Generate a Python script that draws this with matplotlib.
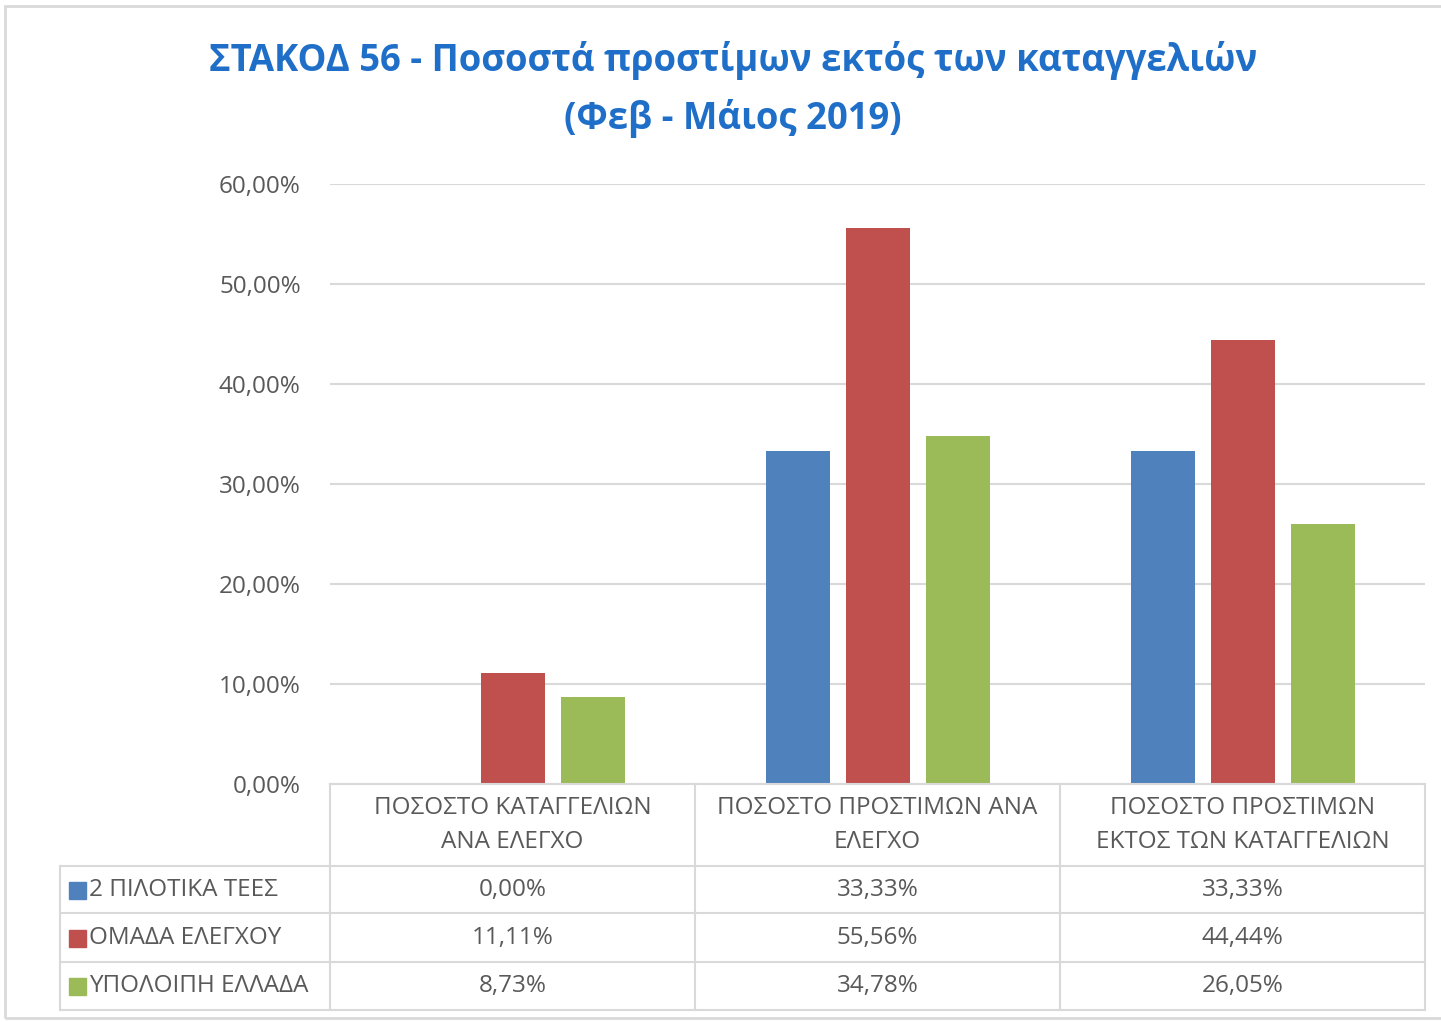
import matplotlib.pyplot as plt
from matplotlib.patches import Rectangle

plt.rcParams['font.family'] = ['Open Sans', 'DejaVu Sans']

categories = ['ΠΟΣΟΣΤΟ ΚΑΤΑΓΓΕΛΙΩΝ\nΑΝΑ ΕΛΕΓΧΟ',
              'ΠΟΣΟΣΤΟ ΠΡΟΣΤΙΜΩΝ ΑΝΑ\nΕΛΕΓΧΟ',
              'ΠΟΣΟΣΤΟ ΠΡΟΣΤΙΜΩΝ\nΕΚΤΟΣ ΤΩΝ ΚΑΤΑΓΓΕΛΙΩΝ']
series_names = ['2 ΠΙΛΟΤΙΚΑ ΤΕΕΣ', 'ΟΜΑΔΑ ΕΛΕΓΧΟΥ', 'ΥΠΟΛΟΙΠΗ ΕΛΛΑΔΑ']
pilot = [0.00, 33.33, 33.33]
control = [11.11, 55.56, 44.44]
rest = [8.73, 34.78, 26.05]
colors = ['#4F81BD', '#C0504D', '#9BBB59']

W, H = 1441, 1022
fig = plt.figure(figsize=(W / 100, H / 100), dpi=100)

# outer chart frame
fig.patches.append(Rectangle((5 / W, 4 / H), 1.2, 1 - 10 / H, transform=fig.transFigure,
                             fill=False, edgecolor='#D9D9D9', linewidth=2))

fig.text(733 / W, 1 - 61 / H, 'ΣΤΑΚΟΔ 56 - Ποσοστά προστίμων εκτός των καταγγελιών',
         ha='center', va='center', fontsize=26.3, fontweight='bold', color='#1F6FC8')
fig.text(733 / W, 1 - 119 / H, '(Φεβ - Μάιος 2019)',
         ha='center', va='center', fontsize=26.3, fontweight='bold', color='#1F6FC8')

ax = fig.add_axes([330 / W, 1 - 784 / H, (1425 - 330) / W, (784 - 184) / H])
series = [pilot, control, rest]
bw = 64 / 365
for i, vals in enumerate(series):
    xs = [j + (i - 1) * 80 / 365 for j in range(len(categories))]
    ax.bar(xs, vals, width=bw, color=colors[i], zorder=3)

ax.set_xlim(-0.5, len(categories) - 0.5)
ax.set_ylim(0, 60)
ticks = list(range(0, 61, 10))
ax.set_yticks(ticks)
ax.set_yticklabels([f'{t:.2f}%'.replace('.', ',') for t in ticks], fontsize=17.5, color='#595959')
ax.tick_params(axis='y', length=0, pad=21)
ax.set_xticks([])
ax.grid(axis='y', color='#D9D9D9', linewidth=1.5, zorder=0)
for s in ax.spines.values():
    s.set_visible(False)

# data table
tab = fig.add_axes([55 / W, 1 - 1015 / H, (1430 - 55) / W, (1015 - 780) / H])
tab.set_xlim(55, 1430)
tab.set_ylim(1015, 780)
tab.axis('off')
lc = '#D9D9D9'
cols = [330, 695, 1060, 1425]
rows = [784, 866, 913, 962, 1010]
tab.plot([330, 1425], [784, 784], color=lc, lw=1.5)
for r in rows[1:]:
    tab.plot([60, 1425], [r, r], color=lc, lw=1.5)
tab.plot([60, 60], [866, 1010], color=lc, lw=1.5)
for c in cols:
    tab.plot([c, c], [784, 1010], color=lc, lw=1.5)

for j, cat in enumerate(categories):
    tab.text((cols[j] + cols[j + 1]) / 2, 825, cat, ha='center', va='center',
             fontsize=17.5, color='#595959', linespacing=1.55)

for i, vals in enumerate(series):
    yc = (rows[i + 1] + rows[i + 2]) / 2
    tab.add_patch(Rectangle((69, yc - 8), 17, 17, color=colors[i]))
    tab.text(89, yc, series_names[i], ha='left', va='center', fontsize=17.5, color='#595959')
    for j, v in enumerate(vals):
        tab.text((cols[j] + cols[j + 1]) / 2, yc, f'{v:.2f}%'.replace('.', ','),
                 ha='center', va='center', fontsize=17.5, color='#595959')

fig.savefig('out.png', dpi=100)
